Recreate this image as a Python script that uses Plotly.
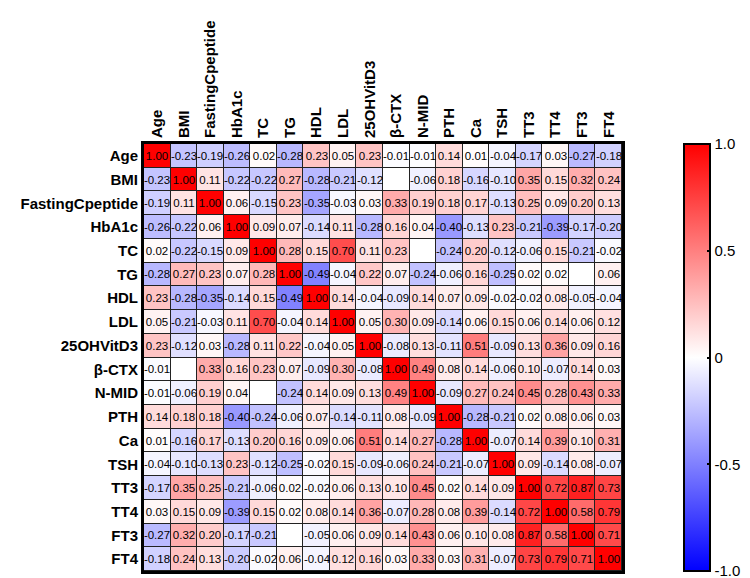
import numpy as np
import plotly.graph_objects as go

labels = ["Age", "BMI", "FastingCpeptide", "HbA1c", "TC", "TG", "HDL", "LDL", "25OHVitD3",
          "β-CTX", "N-MID", "PTH", "Ca", "TSH", "TT3", "TT4", "FT3", "FT4"]

N = None
r_age   = [1.00, -0.23, -0.19, -0.26, 0.02, -0.28, 0.23, 0.05, 0.23, -0.01, -0.01, 0.14, 0.01, -0.04, -0.17, 0.03, -0.27, -0.18]
r_bmi   = [-0.23, 1.00, 0.11, -0.22, -0.22, 0.27, -0.28, -0.21, -0.12, N, -0.06, 0.18, -0.16, -0.10, 0.35, 0.15, 0.32, 0.24]
r_fcp   = [-0.19, 0.11, 1.00, 0.06, -0.15, 0.23, -0.35, -0.03, 0.03, 0.33, 0.19, 0.18, 0.17, -0.13, 0.25, 0.09, 0.20, 0.13]
r_hba1c = [-0.26, -0.22, 0.06, 1.00, 0.09, 0.07, -0.14, 0.11, -0.28, 0.16, 0.04, -0.40, -0.13, 0.23, -0.21, -0.39, -0.17, -0.20]
r_tc    = [0.02, -0.22, -0.15, 0.09, 1.00, 0.28, 0.15, 0.70, 0.11, 0.23, N, -0.24, 0.20, -0.12, -0.06, 0.15, -0.21, -0.02]
r_tg    = [-0.28, 0.27, 0.23, 0.07, 0.28, 1.00, -0.49, -0.04, 0.22, 0.07, -0.24, -0.06, 0.16, -0.25, 0.02, 0.02, N, 0.06]
r_hdl   = [0.23, -0.28, -0.35, -0.14, 0.15, -0.49, 1.00, 0.14, -0.04, -0.09, 0.14, 0.07, 0.09, -0.02, -0.02, 0.08, -0.05, -0.04]
r_ldl   = [0.05, -0.21, -0.03, 0.11, 0.70, -0.04, 0.14, 1.00, 0.05, 0.30, 0.09, -0.14, 0.06, 0.15, 0.06, 0.14, 0.06, 0.12]
r_vitd  = [0.23, -0.12, 0.03, -0.28, 0.11, 0.22, -0.04, 0.05, 1.00, -0.08, 0.13, -0.11, 0.51, -0.09, 0.13, 0.36, 0.09, 0.16]
r_ctx   = [-0.01, N, 0.33, 0.16, 0.23, 0.07, -0.09, 0.30, -0.08, 1.00, 0.49, 0.08, 0.14, -0.06, 0.10, -0.07, 0.14, 0.03]
r_nmid  = [-0.01, -0.06, 0.19, 0.04, N, -0.24, 0.14, 0.09, 0.13, 0.49, 1.00, -0.09, 0.27, 0.24, 0.45, 0.28, 0.43, 0.33]
r_pth   = [0.14, 0.18, 0.18, -0.40, -0.24, -0.06, 0.07, -0.14, -0.11, 0.08, -0.09, 1.00, -0.28, -0.21, 0.02, 0.08, 0.06, 0.03]
r_ca    = [0.01, -0.16, 0.17, -0.13, 0.20, 0.16, 0.09, 0.06, 0.51, 0.14, 0.27, -0.28, 1.00, -0.07, 0.14, 0.39, 0.10, 0.31]
r_tsh   = [-0.04, -0.10, -0.13, 0.23, -0.12, -0.25, -0.02, 0.15, -0.09, -0.06, 0.24, -0.21, -0.07, 1.00, 0.09, -0.14, 0.08, -0.07]
r_tt3   = [-0.17, 0.35, 0.25, -0.21, -0.06, 0.02, -0.02, 0.06, 0.13, 0.10, 0.45, 0.02, 0.14, 0.09, 1.00, 0.72, 0.87, 0.73]
r_tt4   = [0.03, 0.15, 0.09, -0.39, 0.15, 0.02, 0.08, 0.14, 0.36, -0.07, 0.28, 0.08, 0.39, -0.14, 0.72, 1.00, 0.58, 0.79]
r_ft3   = [-0.27, 0.32, 0.20, -0.17, -0.21, N, -0.05, 0.06, 0.09, 0.14, 0.43, 0.06, 0.10, 0.08, 0.87, 0.58, 1.00, 0.71]
r_ft4   = [-0.18, 0.24, 0.13, -0.20, -0.02, 0.06, -0.04, 0.12, 0.16, 0.03, 0.33, 0.03, 0.31, -0.07, 0.73, 0.79, 0.71, 1.00]

rows = [r_age, r_bmi, r_fcp, r_hba1c, r_tc, r_tg, r_hdl, r_ldl, r_vitd, r_ctx, r_nmid,
        r_pth, r_ca, r_tsh, r_tt3, r_tt4, r_ft3, r_ft4]

colorbar_ticks = [-1.0, -0.5, 0, 0.5, 1.0]
colorbar_ticktext = ["-1.0", "-0.5", "0", "0.5", "1.0"]

FONT = "Arial, Liberation Sans, sans-serif"
CB_X = 1.13  # colorbar left edge, paper fraction

# colour values: blank cells shown white (0); text blank
zc = [[(v if v is not None else 0.0) for v in r] for r in rows]
txt = [[("" if v is None else f"{v:.2f}") for v in r] for r in rows]

fig = go.Figure(go.Heatmap(
    z=zc, x=labels, y=labels, text=txt, texttemplate="%{text}",
    textfont=dict(family=FONT, size=11.5, color="black"),
    colorscale=[[0, "rgb(0,0,255)"], [0.5, "rgb(255,255,255)"], [1, "rgb(255,0,0)"]],
    zmin=-1, zmax=1, xgap=1, ygap=1, hoverongaps=False,
    colorbar=dict(
        x=CB_X, xanchor="left", xpad=0, y=0.5, yanchor="middle", ypad=0,
        len=1.0, lenmode="fraction",
        thickness=26, thicknessmode="pixels", outlinewidth=2, outlinecolor="black",
        tickvals=colorbar_ticks, ticktext=colorbar_ticktext, ticks="inside", ticklen=4,
        tickcolor="black", tickwidth=2,
        tickfont=dict(family=FONT, size=15, color="black"),
    ),
))

# ticks on the left edge of the colour bar as well
for v in colorbar_ticks[1:-1]:
    fig.add_shape(type="line", xref="paper", yref="paper",
                  x0=CB_X, x1=CB_X + 4 / 502, y0=(v + 1) / 2, y1=(v + 1) / 2,
                  line=dict(color="black", width=2))

fig.update_layout(
    width=750, height=578,
    margin=dict(l=120, r=128, t=118, b=13),
    plot_bgcolor="#222222", paper_bgcolor="white",
    font=dict(family=FONT, color="black"),
)
fig.update_xaxes(side="top", tickangle=-90, showgrid=False, zeroline=False,
                 showline=True, mirror=True, linewidth=3, linecolor="black",
                 ticks="", ticklen=0,
                 tickfont=dict(family=FONT, size=15, color="black", weight="bold"))
fig.update_yaxes(autorange="reversed", showgrid=False, zeroline=False,
                 showline=True, mirror=True, linewidth=3, linecolor="black",
                 ticks="", ticklen=0,
                 tickfont=dict(family=FONT, size=15, color="black", weight="bold"))

fig.write_html("out.html")
